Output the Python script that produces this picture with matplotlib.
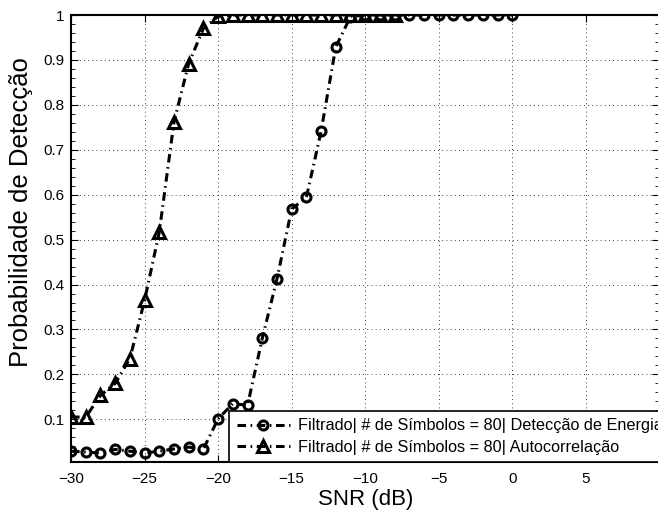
import matplotlib.pyplot as plt
from matplotlib.ticker import MultipleLocator

plt.rcParams['font.family'] = ['Liberation Sans', 'DejaVu Sans']

# energia (circulos), -30 a 0 dB
snr_energia = list(range(-30, 1))
pd_energia = [0.029, 0.027, 0.025, 0.033, 0.029, 0.025, 0.029, 0.034, 0.038, 0.034,
              0.101, 0.135, 0.131, 0.280, 0.412, 0.568, 0.594, 0.741, 0.929, 0.996,
              1.0, 1.0, 1.0, 1.0, 1.0, 1.0, 1.0, 1.0, 1.0, 1.0, 1.0]

# autocorrelacao (triangulos), -30 a -8 dB
snr_auto = list(range(-30, -7))
pd_auto = [0.105, 0.105, 0.153, 0.180, 0.235, 0.365, 0.517, 0.762, 0.892, 0.970,
           0.997, 1.0, 1.0, 1.0, 1.0, 1.0, 1.0, 1.0, 1.0, 1.0, 1.0, 1.0, 1.0]

labels = ["Filtrado| # de Símbolos = 80| Detecção de Energia",
          "Filtrado| # de Símbolos = 80| Autocorrelação"]

fig = plt.figure(figsize=(6.58, 5.12), dpi=100)
ax = fig.add_axes([0.108, 0.0977, 0.894, 0.873])

ax.plot(snr_energia, pd_energia, color='black', linestyle='-.', linewidth=2.2,
        marker='o', markersize=6.5, markeredgewidth=2.2, markerfacecolor='none',
        dashes=(2.8, 1.5, 0.5, 1.5), label=labels[0])
ax.plot(snr_auto, pd_auto, color='black', linestyle='-.', linewidth=2.2,
        marker='^', markersize=8.5, markeredgewidth=2.2, markerfacecolor='none',
        dashes=(2.8, 1.5, 0.5, 1.5), label=labels[1])

ax.set_xlim(-30, 10)
ax.set_ylim(0.005, 1.0)
ax.set_xticks([-30, -25, -20, -15, -10, -5, 0, 5])
ax.set_xticklabels(['\u221230', '\u221225', '\u221220', '\u221215', '\u221210', '\u22125', '0', '5'])
ax.set_yticks([0.1, 0.2, 0.3, 0.4, 0.5, 0.6, 0.7, 0.8, 0.9, 1.0])
ax.set_yticklabels(['0.1', '0.2', '0.3', '0.4', '0.5', '0.6', '0.7', '0.8', '0.9', '1'])
ax.yaxis.set_minor_locator(MultipleLocator(0.02))
ax.tick_params(direction='in', length=5, width=0.8, labelsize=11, top=True, right=True)
ax.tick_params(axis='x', pad=7.5)
ax.tick_params(axis='y', pad=5)
ax.tick_params(which='minor', direction='in', length=3, width=0.6, left=True, right=True)

ax.grid(True, which='major', color='black', linestyle=(0, (1, 4)), linewidth=0.6)

for s in ax.spines.values():
    s.set_linewidth(1.5)

ax.set_xlabel('SNR (dB)', fontsize=16, labelpad=2)
ax.set_ylabel('Probabilidade de Detecção', fontsize=18.5)
ax.yaxis.set_label_coords(-0.065, 0.56)

# legenda sai pela direita como no original
leg = ax.legend(loc='lower left', bbox_to_anchor=(0.269, 0.0), fontsize=11.7,
                handlelength=3.3, handletextpad=0.5, borderpad=0.45, labelspacing=0.38,
                fancybox=False, framealpha=1, edgecolor='black', borderaxespad=0)
leg.get_frame().set_linewidth(1.2)

fig.savefig('out.png', dpi=100)
